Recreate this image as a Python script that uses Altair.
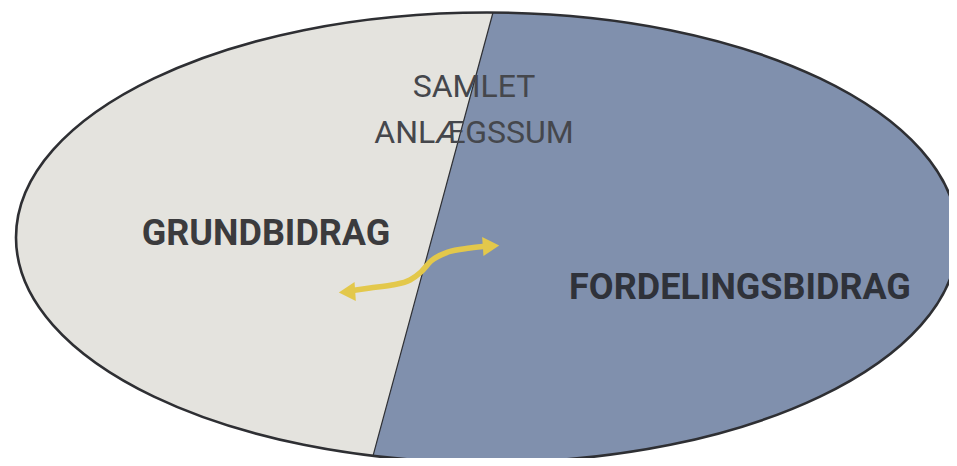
import math
import altair as alt
import pandas as pd

# ---- content -------------------------------------------------------------
title_lines = ["SAMLET", "ANLÆGSSUM"]
left_label = "GRUNDBIDRAG"
right_label = "FORDELINGSBIDRAG"

# ---- geometry (page pixel coordinates) -----------------------------------
W, H = 941, 450
ell_cx, ell_cy, ell_rx, ell_ry = 487, 237.5, 471, 225
div_top_x, div_bot_x = 493, 373

title_x = [474, 474]
title_y = [97, 143]
left_x, left_y = 266, 245
right_x, right_y = 740, 299

arrow_x = [349, 370, 392, 410, 421, 431, 448, 470, 489]
arrow_y = [291, 288, 285, 280, 272, 261, 252, 248, 246]
head_x = [347, 491]
head_y = [292, 246]
head_shape = ["triangle-left", "triangle-right"]

LIGHT = "#E4E3DE"
BLUE = "#8090AD"
OUTLINE = "#2E2F33"
YELLOW = "#E3C84B"
FONT = "Roboto"

# unit-coordinate paths for custom symbols (1 unit = rx pixels)
r = ell_ry / ell_rx
def ell_pt(px, top):
    xu = (px - ell_cx) / ell_rx
    yu = r * math.sqrt(1 - xu * xu)
    return xu, (-yu if top else yu)

tx, ty = ell_pt(div_top_x, True)
bx, by = ell_pt(div_bot_x, False)
left_path = f"M {tx:.5f} {ty:.5f} A 1 {r:.5f} 0 0 0 {bx:.5f} {by:.5f} Z"
right_path = f"M {tx:.5f} {ty:.5f} A 1 {r:.5f} 0 1 1 {bx:.5f} {by:.5f} Z"
full_path = f"M -1 0 A 1 {r:.5f} 0 1 1 1 0 A 1 {r:.5f} 0 1 1 -1 0 Z"
sym_size = (2 * ell_rx) ** 2

xs = alt.Scale(domain=[8, 8 + W], nice=False, zero=False)
ys = alt.Scale(domain=[8, 8 + H], nice=False, zero=False, reverse=True)
X = lambda f: alt.X(f, type="quantitative", scale=xs, axis=None)
Y = lambda f: alt.Y(f, type="quantitative", scale=ys, axis=None)

center_df = pd.DataFrame({"x": [ell_cx], "y": [ell_cy]})
pos_ty = ell_cy + ty * ell_rx
pos_by = ell_cy + by * ell_rx
div_df = pd.DataFrame({"x": [div_top_x], "y": [pos_ty], "x2": [div_bot_x], "y2": [pos_by]})

left_fill = alt.Chart(center_df).mark_point(
    shape=left_path, size=sym_size, filled=True, fill=LIGHT, opacity=1, strokeWidth=0
).encode(x=X("x"), y=Y("y"))
right_fill = alt.Chart(center_df).mark_point(
    shape=right_path, size=sym_size, filled=True, fill=BLUE, opacity=1, strokeWidth=0
).encode(x=X("x"), y=Y("y"))
divider = alt.Chart(div_df).mark_rule(color=OUTLINE, strokeWidth=1.2).encode(
    x=X("x"), y=Y("y"), x2="x2", y2="y2"
)
outline = alt.Chart(center_df).mark_point(
    shape=full_path, size=sym_size, filled=False, stroke=OUTLINE, strokeWidth=2.6, opacity=1
).encode(x=X("x"), y=Y("y"))

arrow_df = pd.DataFrame({"x": arrow_x, "y": arrow_y, "o": list(range(len(arrow_x)))})
arrow = alt.Chart(arrow_df).mark_line(
    color=YELLOW, strokeWidth=5.5, interpolate="monotone", strokeCap="round"
).encode(x=X("x"), y=Y("y"), order="o:O")
heads = alt.Chart(pd.DataFrame({"x": head_x, "y": head_y, "s": head_shape})).mark_point(
    filled=True, fill=YELLOW, opacity=1, size=360, angle=356, strokeWidth=0
).encode(x=X("x"), y=Y("y"), shape=alt.Shape("s:N", scale=None, legend=None))

title_df = pd.DataFrame({"t": title_lines, "x": title_x, "y": title_y})
title = alt.Chart(title_df).mark_text(
    font=FONT, fontSize=32, fontWeight="normal", color="#45474C",
    align="center", baseline="alphabetic"
).encode(x=X("x"), y=Y("y"), text="t:N")

left_text = alt.Chart(pd.DataFrame({"t": [left_label], "x": [left_x], "y": [left_y]})).mark_text(
    font=FONT, fontSize=36, fontWeight="bold", color="#3B3B3D",
    align="center", baseline="alphabetic"
).encode(x=X("x"), y=Y("y"), text="t:N")
right_text = alt.Chart(pd.DataFrame({"t": [right_label], "x": [right_x], "y": [right_y]})).mark_text(
    font=FONT, fontSize=36, fontWeight="bold", color="#2F323A",
    align="center", baseline="alphabetic"
).encode(x=X("x"), y=Y("y"), text="t:N")

chart = alt.layer(
    left_fill, right_fill, divider, outline, arrow, heads, title, left_text, right_text
).properties(
    width=W, height=H, autosize=alt.AutoSizeParams(type="none"), padding=0,
    background="white"
).configure_view(stroke=None)

chart.save("out.html", embed_options={"renderer": "svg", "actions": False})
